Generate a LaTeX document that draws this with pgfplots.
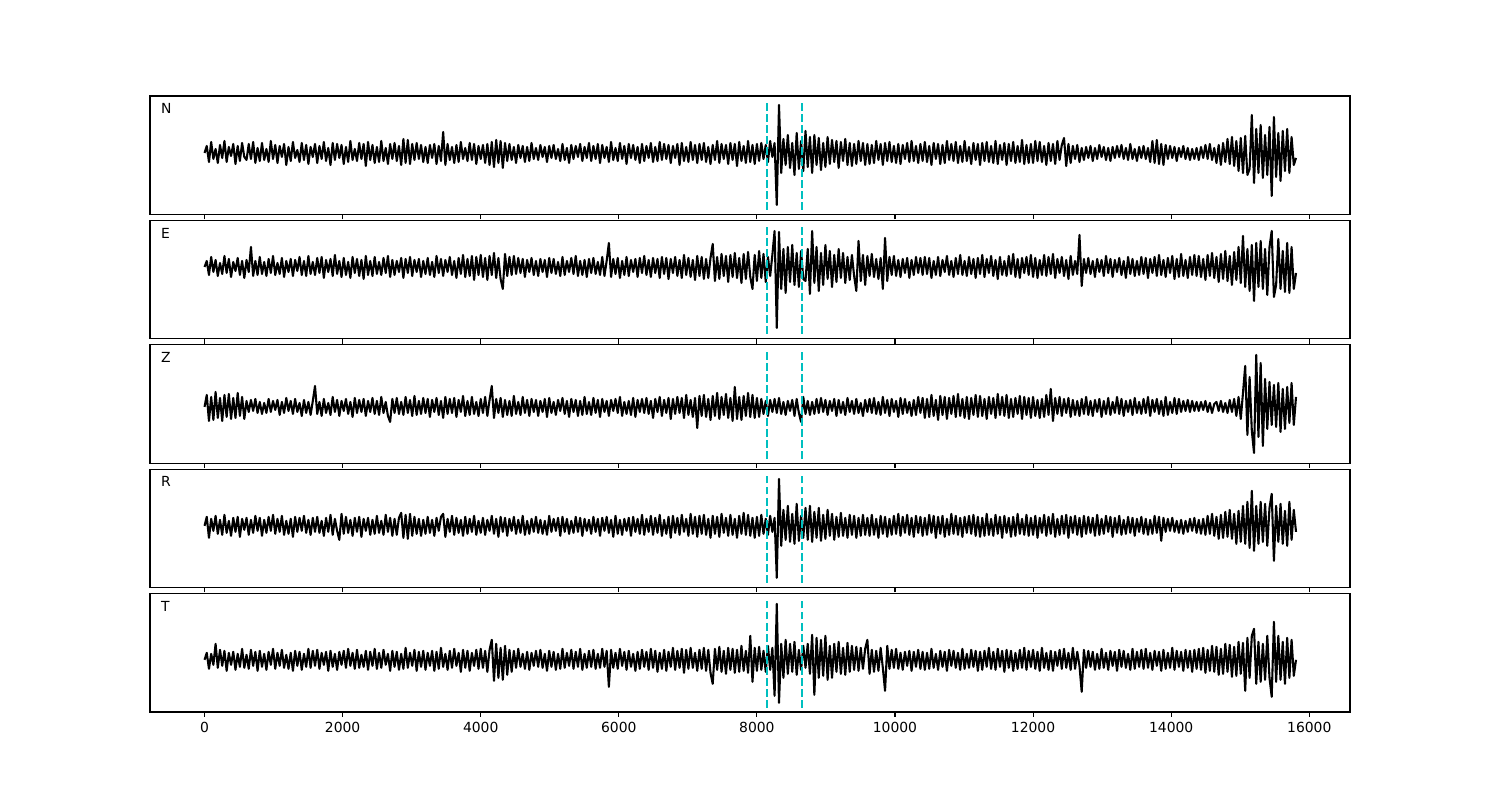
\documentclass[border=0pt]{standalone}
\usepackage{pgfplots}
\pgfplotsset{compat=1.18}
\usepackage{pgfplotstable}
\usepackage{fontspec}
\setmainfont{DejaVu Sans}
\definecolor{mplc}{RGB}{0,191,191}

% values: one sample every 32 units, from 0 to 15808 (495 samples per trace, 25 per line)
\pgfplotstableread[header=false,row sep=\\]{
0\\7\\-9\\11\\-6\\4\\-10\\8\\-5\\12\\-9\\6\\-3\\9\\-11\\7\\-8\\10\\-4\\-7\\9\\-6\\11\\-10\\5\\
-8\\10\\-7\\4\\-9\\12\\-6\\8\\-10\\7\\-4\\9\\-12\\6\\-8\\11\\-5\\3\\-9\\10\\-7\\8\\-11\\6\\-4\\
9\\-10\\7\\-6\\11\\-8\\5\\-12\\10\\-7\\9\\-5\\8\\-11\\6\\-9\\12\\-7\\4\\-8\\10\\-6\\9\\-13\\11\\
-7\\8\\-10\\6\\-9\\12\\-8\\5\\-11\\9\\-6\\10\\-8\\7\\-12\\14\\-10\\13\\-11\\9\\-7\\10\\-6\\8\\-9\\
6\\-10\\8\\-5\\9\\-11\\7\\-8\\21\\-12\\9\\-7\\6\\-10\\8\\-9\\11\\-6\\5\\-8\\10\\-7\\9\\-11\\7\\
-6\\8\\-10\\9\\-12\\11\\-14\\13\\-10\\12\\-15\\10\\-8\\9\\-7\\6\\-10\\8\\-5\\7\\-9\\6\\-8\\10\\-6\\
5\\-7\\8\\-4\\6\\-9\\7\\-5\\8\\-6\\4\\-8\\9\\-7\\5\\-10\\8\\-6\\7\\-4\\9\\-8\\6\\-5\\10\\
-8\\7\\-6\\9\\-10\\8\\-5\\6\\-9\\11\\-7\\5\\-8\\10\\-6\\7\\-11\\9\\-5\\8\\-7\\6\\-10\\9\\-8\\
7\\-5\\10\\-9\\6\\-8\\11\\-7\\9\\-6\\8\\-10\\7\\-5\\9\\-12\\10\\-8\\6\\-9\\11\\-7\\8\\-10\\9\\
-7\\10\\-9\\6\\-11\\8\\-7\\12\\-10\\9\\-6\\8\\-11\\10\\-7\\9\\-13\\11\\-8\\7\\-10\\12\\-9\\8\\-11\\
9\\-8\\10\\-6\\8\\-9\\12\\-4\\10\\-52\\48\\-20\\14\\-12\\18\\-15\\10\\-22\\20\\-16\\12\\-18\\22\\-14\\16\\
-20\\18\\-12\\15\\-17\\10\\-14\\16\\-11\\13\\-9\\12\\-15\\11\\-8\\14\\-12\\10\\-13\\9\\-11\\12\\-8\\10\\-12\\
9\\-11\\8\\-10\\12\\-7\\9\\-12\\10\\-8\\11\\-9\\7\\-10\\9\\-11\\8\\-6\\10\\-9\\12\\-8\\7\\-10\\9\\
-8\\11\\-9\\7\\-12\\10\\-6\\9\\-11\\8\\-10\\12\\-7\\9\\-8\\11\\-10\\7\\-9\\12\\-8\\6\\-11\\10\\-7\\
9\\-12\\10\\-8\\11\\-9\\7\\-10\\12\\-11\\8\\-7\\10\\-12\\9\\-8\\11\\-10\\7\\-9\\13\\-11\\8\\-10\\9\\
-10\\12\\-8\\11\\-9\\7\\-12\\10\\-8\\9\\-11\\12\\-7\\8\\15\\-13\\9\\-10\\7\\-6\\8\\-9\\5\\-7\\6\\
-5\\7\\-8\\5\\-6\\8\\-4\\6\\-7\\5\\-8\\6\\-5\\7\\-4\\8\\-6\\5\\-7\\9\\-6\\4\\-8\\6\\-5\\
7\\-6\\5\\-9\\12\\-10\\13\\-11\\9\\-12\\8\\-6\\7\\-5\\6\\-8\\5\\-4\\7\\-6\\5\\-7\\4\\-6\\5\\
-7\\6\\-5\\8\\-6\\9\\-7\\5\\-10\\8\\-12\\10\\-9\\14\\-11\\16\\-13\\12\\-18\\15\\-20\\17\\-22\\-16\\38\\
-30\\24\\-20\\28\\-25\\18\\-22\\26\\-43\\36\\-24\\20\\-28\\22\\-18\\24\\-20\\16\\-12\\-5\\
}\dataN

\pgfplotstableread[header=false,row sep=\\]{
0\\6\\-8\\10\\-5\\7\\-9\\4\\-7\\11\\-6\\8\\-10\\5\\-4\\9\\-8\\6\\-11\\7\\-5\\20\\-9\\6\\-8\\
10\\-7\\5\\-9\\8\\-6\\11\\-8\\4\\-7\\9\\-10\\6\\-5\\8\\-9\\7\\-4\\10\\-8\\6\\-9\\11\\-7\\5\\
-8\\9\\-6\\10\\-11\\7\\-5\\8\\-9\\12\\-7\\6\\-10\\9\\-8\\5\\-11\\10\\-6\\8\\-9\\7\\-12\\11\\-8\\
6\\-9\\10\\-7\\5\\-8\\9\\-6\\11\\-10\\7\\-8\\6\\-5\\9\\-11\\8\\-6\\10\\-9\\7\\-5\\8\\-10\\6\\
-7\\9\\-8\\5\\-10\\11\\-6\\8\\-9\\7\\-5\\10\\-8\\6\\-11\\9\\-7\\12\\-10\\8\\-9\\11\\-13\\10\\-8\\
12\\-10\\9\\-13\\11\\-8\\14\\-11\\9\\-12\\-22\\13\\-9\\10\\-8\\11\\-7\\9\\-6\\8\\-10\\7\\-5\\9\\-8\\
6\\-9\\8\\-5\\7\\-10\\9\\-6\\8\\-7\\5\\-9\\10\\-8\\6\\-5\\9\\-7\\11\\-9\\6\\-8\\7\\-10\\8\\
-6\\9\\-7\\5\\-8\\10\\-9\\6\\24\\-10\\8\\-7\\9\\-11\\6\\-8\\10\\-9\\7\\-5\\8\\-10\\9\\-6\\11\\
-8\\7\\-10\\9\\-6\\8\\-11\\10\\-7\\9\\-12\\8\\-6\\10\\-9\\7\\-11\\12\\-8\\9\\-10\\7\\-13\\11\\-9\\
10\\-12\\8\\-11\\9\\23\\-14\\10\\-12\\13\\-9\\11\\-15\\12\\-10\\14\\-11\\9\\-16\\13\\-12\\15\\-10\\-22\\12\\
-14\\16\\-11\\13\\-15\\10\\-9\\12\\36\\-61\\35\\-22\\18\\-26\\20\\-15\\22\\-18\\14\\-20\\16\\-12\\-14\\18\\-27\\
36\\-16\\20\\-24\\14\\-18\\22\\-12\\16\\-20\\12\\-15\\18\\-11\\14\\-16\\10\\-13\\12\\-9\\-24\\26\\-14\\12\\-18\\
11\\-9\\13\\-10\\8\\-12\\9\\-22\\29\\-14\\10\\-8\\11\\-9\\7\\-10\\8\\-6\\9\\-11\\7\\-8\\10\\-6\\9\\
-8\\10\\-7\\9\\-11\\6\\-8\\10\\-9\\7\\-5\\11\\-8\\6\\-10\\9\\-7\\12\\-8\\6\\-9\\10\\-7\\8\\-11\\
9\\-7\\12\\-10\\8\\-6\\11\\-9\\7\\-12\\10\\-8\\6\\-9\\11\\-7\\13\\-10\\8\\-11\\9\\-6\\10\\-8\\12\\
-10\\9\\-11\\7\\-8\\12\\-9\\10\\-7\\13\\-11\\8\\-6\\10\\-9\\7\\-12\\11\\-8\\6\\-7\\32\\-19\\8\\-6\\
9\\-7\\6\\-10\\8\\-5\\7\\-9\\11\\-6\\8\\-10\\7\\-5\\9\\-8\\6\\-11\\10\\-7\\8\\-9\\6\\-8\\10\\
-7\\9\\-11\\8\\-6\\10\\-9\\12\\-8\\7\\-10\\9\\-6\\11\\-12\\8\\-10\\13\\-9\\7\\-11\\10\\-8\\12\\-9\\
11\\-10\\8\\-13\\12\\-9\\14\\-11\\10\\-15\\13\\-12\\16\\-14\\11\\-18\\15\\-13\\20\\-16\\31\\-20\\18\\-24\\22\\
-34\\24\\-20\\26\\-22\\18\\-28\\20\\36\\-30\\-18\\28\\-22\\16\\-25\\24\\-26\\20\\-22\\-6\\
}\dataE

\pgfplotstableread[header=false,row sep=\\]{
0\\12\\-14\\10\\-13\\15\\-11\\9\\-14\\12\\-10\\13\\-12\\9\\-11\\14\\-9\\10\\-12\\6\\-5\\7\\-4\\8\\-6\\
5\\-7\\4\\-6\\8\\-5\\6\\-3\\7\\-8\\5\\-6\\9\\-4\\6\\-7\\8\\-5\\4\\-9\\7\\-6\\5\\-8\\6\\
21\\-7\\5\\-9\\8\\-6\\4\\-8\\10\\-5\\7\\-9\\6\\-4\\8\\-7\\5\\-10\\9\\-6\\7\\-5\\8\\-9\\6\\
-5\\9\\-7\\6\\-8\\10\\-6\\5\\-9\\-15\\8\\-6\\9\\-7\\5\\-8\\10\\-6\\7\\-9\\11\\-8\\6\\-7\\9\\
-6\\8\\-10\\7\\-5\\9\\-8\\6\\-11\\10\\-7\\8\\-6\\9\\-10\\7\\-5\\11\\-9\\6\\-8\\10\\-7\\5\\-9\\
8\\-6\\10\\-9\\7\\21\\-11\\8\\-6\\9\\-10\\7\\-8\\6\\-9\\11\\-7\\5\\-8\\10\\-6\\7\\-9\\8\\-5\\
7\\-9\\6\\-5\\8\\-10\\9\\-6\\5\\-8\\7\\-4\\9\\-7\\6\\-10\\8\\-5\\7\\-9\\6\\-8\\10\\-7\\5\\
-8\\9\\-6\\7\\-10\\8\\-5\\6\\-9\\7\\-4\\8\\-6\\10\\-9\\5\\-7\\6\\-8\\9\\-10\\7\\-5\\8\\-6\\
9\\-7\\6\\-11\\8\\-5\\10\\-9\\7\\-6\\9\\-12\\8\\-7\\10\\-6\\9\\-11\\12\\-8\\7\\-10\\9\\-21\\11\\
-9\\12\\-10\\8\\-13\\11\\-9\\14\\-12\\10\\-8\\13\\-11\\9\\-14\\20\\-12\\10\\-13\\11\\-9\\14\\-10\\12\\-11\\
9\\-10\\8\\-7\\6\\-9\\7\\-5\\8\\-6\\9\\-7\\5\\-8\\6\\-4\\7\\-9\\8\\-6\\-15\\10\\-7\\6\\-8\\
5\\-7\\8\\-6\\9\\-5\\7\\-8\\6\\-4\\8\\-9\\7\\-6\\5\\-8\\9\\-5\\6\\-7\\8\\-6\\4\\-9\\7\\
-5\\8\\-6\\9\\-7\\5\\-8\\10\\-6\\7\\-9\\8\\-5\\6\\-10\\9\\-7\\8\\-6\\5\\-9\\7\\-8\\10\\-6\\
9\\-11\\8\\-10\\12\\-9\\7\\-13\\11\\-8\\10\\-12\\9\\-7\\11\\-10\\13\\-9\\8\\-11\\10\\-12\\9\\-8\\12\\
-10\\11\\-9\\8\\-12\\10\\-7\\9\\-11\\13\\-8\\10\\-9\\12\\-11\\8\\-10\\9\\-7\\11\\-12\\10\\-8\\9\\-11\\
10\\-9\\7\\-11\\8\\-10\\12\\-8\\18\\-14\\9\\-7\\10\\-9\\8\\-6\\9\\-10\\7\\-8\\6\\-9\\8\\-7\\10\\
-8\\6\\-9\\7\\-5\\8\\-10\\6\\-7\\9\\-8\\5\\-6\\10\\-7\\8\\-9\\6\\-5\\7\\-8\\9\\-6\\5\\-7\\
8\\-6\\10\\-9\\7\\-5\\8\\-7\\6\\-9\\10\\-8\\5\\-6\\9\\-7\\8\\-5\\6\\-4\\7\\-5\\6\\-4\\5\\
-4\\5\\-3\\6\\-5\\4\\-6\\3\\5\\-4\\6\\-5\\4\\-6\\7\\-5\\8\\-9\\10\\-12\\14\\41\\-28\\30\\-24\\
-46\\52\\-30\\44\\-39\\28\\-22\\25\\-18\\22\\-20\\24\\-25\\18\\-22\\20\\-16\\24\\-18\\10\\
}\dataZ

\pgfplotstableread[header=false,row sep=\\]{
0\\9\\-12\\7\\-5\\10\\-8\\6\\-9\\11\\-7\\5\\-10\\8\\-6\\9\\-11\\7\\-4\\8\\-9\\6\\-7\\10\\-5\\
8\\-10\\6\\-7\\9\\-5\\11\\-8\\7\\-6\\10\\-9\\5\\-8\\7\\-11\\9\\-6\\8\\-5\\10\\-7\\6\\-9\\8\\
-6\\9\\-7\\5\\-10\\8\\-6\\11\\-9\\7\\-5\\-14\\12\\-8\\9\\-7\\6\\-10\\8\\-6\\9\\-11\\7\\-5\\8\\
-9\\6\\-8\\10\\-7\\5\\-9\\11\\-6\\8\\-10\\7\\-9\\8\\13\\-12\\11\\-13\\12\\-10\\9\\-8\\7\\-10\\6\\
-8\\9\\-7\\6\\-10\\8\\-5\\9\\12\\-11\\7\\-6\\10\\-9\\8\\-7\\6\\-10\\9\\-8\\7\\-6\\10\\-9\\5\\
-7\\8\\-9\\6\\-5\\10\\-8\\7\\-11\\9\\-6\\8\\-10\\7\\-5\\9\\-8\\6\\-7\\10\\-9\\5\\-8\\7\\-6\\
9\\-7\\6\\-8\\5\\-9\\10\\-6\\7\\-5\\8\\-10\\9\\-6\\7\\-8\\5\\-7\\9\\-6\\8\\-10\\7\\-5\\6\\
-8\\9\\-6\\7\\-10\\8\\-5\\9\\-7\\6\\-11\\10\\-8\\6\\-9\\7\\-5\\8\\-10\\9\\-6\\7\\-8\\11\\-9\\
7\\-6\\10\\-9\\8\\-7\\11\\-10\\6\\-8\\9\\-12\\10\\-7\\8\\-9\\11\\-6\\7\\-10\\12\\-8\\9\\-11\\10\\
-8\\11\\-9\\7\\-12\\10\\-8\\9\\-11\\12\\-7\\8\\-10\\11\\-9\\7\\-12\\10\\-8\\13\\-9\\11\\-10\\8\\-12\\
9\\-10\\11\\-8\\7\\-9\\10\\-6\\8\\-52\\47\\-20\\16\\-14\\20\\-16\\12\\-18\\22\\-15\\10\\-12\\18\\-14\\20\\
-16\\14\\-12\\18\\-15\\11\\-13\\16\\-10\\12\\-14\\9\\-11\\13\\-10\\8\\-12\\11\\-9\\10\\-12\\8\\-10\\11\\-9\\
8\\-10\\11\\-9\\7\\-12\\10\\-8\\9\\-11\\7\\-9\\10\\-8\\12\\-10\\9\\-7\\11\\-9\\8\\-11\\10\\-7\\9\\
-10\\8\\-9\\11\\-7\\10\\-12\\9\\-8\\10\\-11\\7\\-9\\12\\-8\\10\\-9\\8\\-11\\9\\-7\\10\\-8\\11\\-10\\
9\\-11\\8\\-10\\12\\-9\\7\\-10\\11\\-8\\9\\-12\\10\\-7\\8\\-11\\9\\-10\\12\\-8\\7\\-9\\11\\-10\\8\\
-9\\10\\-12\\8\\-7\\11\\-10\\9\\-8\\12\\-11\\7\\-9\\10\\-8\\11\\-12\\9\\-7\\10\\-9\\8\\-11\\10\\-8\\
9\\-7\\8\\-10\\11\\-9\\7\\-8\\10\\-6\\9\\-11\\8\\-7\\10\\-9\\6\\-8\\9\\-7\\8\\-10\\7\\-6\\9\\
-8\\7\\-9\\6\\-8\\10\\-7\\9\\-15\\8\\-6\\7\\-5\\8\\-6\\5\\-7\\6\\-8\\5\\-6\\7\\-5\\8\\-7\\
6\\-8\\7\\-9\\10\\-8\\12\\-10\\9\\-13\\11\\-12\\14\\-11\\16\\-13\\12\\-18\\15\\-16\\20\\-18\\24\\-22\\35\\
-25\\20\\-18\\24\\-16\\22\\-20\\18\\32\\-35\\20\\-16\\22\\-18\\15\\-20\\24\\-14\\16\\-6\\
}\dataR

\pgfplotstableread[header=false,row sep=\\]{
0\\7\\-9\\6\\-5\\16\\-8\\10\\-6\\9\\-11\\7\\-5\\8\\-10\\6\\-7\\11\\-8\\5\\-9\\10\\-6\\8\\-11\\
9\\-7\\6\\-10\\8\\-5\\11\\-9\\7\\-6\\10\\-8\\5\\-9\\7\\-11\\9\\-6\\8\\-10\\6\\-7\\11\\-8\\9\\
-6\\10\\-9\\7\\-5\\8\\-11\\9\\-7\\6\\-10\\8\\-5\\9\\-8\\11\\-6\\7\\-9\\10\\-8\\5\\-7\\9\\-10\\
8\\-6\\11\\-9\\7\\-8\\10\\-5\\6\\-11\\9\\-7\\8\\-10\\6\\-9\\12\\-8\\7\\-6\\10\\-11\\8\\-7\\9\\
-10\\7\\-6\\9\\-11\\8\\-9\\12\\-7\\6\\-10\\9\\-8\\11\\-6\\7\\-12\\10\\-8\\9\\-11\\7\\-6\\10\\-9\\
11\\-8\\9\\-12\\10\\20\\-21\\16\\-18\\12\\-20\\14\\-15\\10\\-12\\9\\-8\\11\\-7\\6\\-9\\8\\-10\\7\\-6\\
9\\-7\\10\\-8\\6\\-11\\9\\-7\\8\\-10\\6\\-9\\11\\-8\\7\\-6\\10\\-9\\8\\-7\\11\\-10\\6\\-8\\9\\
-7\\10\\-9\\6\\-8\\11\\-7\\9\\-27\\10\\-8\\7\\-9\\11\\-6\\8\\-10\\9\\-7\\6\\-11\\8\\-9\\10\\-7\\
8\\-10\\11\\-8\\9\\-12\\7\\-9\\10\\-11\\8\\-7\\12\\-10\\9\\-8\\11\\-13\\10\\-9\\12\\-8\\7\\-11\\10\\
-9\\12\\-11\\10\\-13\\-24\\11\\-10\\13\\-12\\9\\-14\\12\\-10\\11\\-13\\10\\-12\\14\\-11\\9\\-13\\24\\-22\\12\\
-11\\13\\-10\\9\\-12\\14\\-10\\12\\-36\\56\\-43\\16\\-18\\20\\-14\\16\\-12\\18\\-15\\10\\-10\\14\\-8\\16\\-14\\
25\\-35\\22\\-18\\20\\-16\\24\\-20\\14\\-18\\16\\-12\\18\\-14\\12\\-15\\17\\-12\\14\\-10\\13\\-11\\12\\-9\\11\\
20\\-14\\10\\-12\\9\\-11\\12\\-8\\-31\\14\\-9\\10\\-8\\11\\-9\\7\\-10\\8\\-6\\9\\-11\\8\\-7\\10\\-9\\
8\\-10\\7\\-9\\11\\-8\\6\\-10\\9\\-7\\8\\-11\\10\\-6\\9\\-8\\7\\-10\\11\\-9\\6\\-8\\10\\-7\\9\\
-11\\8\\-10\\9\\-7\\12\\-9\\8\\-10\\11\\-7\\9\\-12\\10\\-8\\9\\-11\\7\\-9\\10\\-8\\12\\-10\\9\\-7\\
10\\-9\\8\\-11\\12\\-8\\7\\-10\\9\\-11\\8\\-6\\10\\-9\\11\\-8\\7\\-10\\12\\-9\\8\\-6\\-32\\10\\-8\\
9\\-7\\8\\-10\\6\\-9\\11\\-8\\7\\-10\\9\\-6\\8\\-11\\10\\-7\\9\\-8\\6\\-10\\11\\-9\\8\\-7\\10\\
-9\\11\\-8\\7\\-10\\9\\-6\\8\\-11\\10\\-9\\7\\-8\\12\\-10\\9\\-7\\8\\-11\\10\\-8\\9\\-12\\10\\-9\\
11\\-10\\12\\-13\\10\\-11\\14\\-12\\13\\-15\\11\\-14\\16\\-12\\15\\-17\\13\\-16\\18\\-14\\17\\-31\\22\\-18\\24\\
31\\-24\\18\\-22\\16\\-20\\24\\-18\\-37\\38\\-22\\24\\-20\\18\\-24\\22\\-18\\20\\-16\\0\\
}\dataT

\tikzset{lab/.style={anchor=base west, inner sep=0pt, font=\fontsize{10}{12}\selectfont}}

\pgfplotsset{
  panel/.style={
    scale only axis, width=864pt, height=85.29pt,
    anchor=north west,
    xmin=-790, xmax=16590,
    xtick={0,2000,...,16000},
    ytick=\empty,
    xtick pos=left,
    tick align=outside,
    major tick length=3.5pt,
    xticklabels={},
    axis line style={line width=0.8pt},
    every tick/.style={line width=0.8pt, black},
    scaled x ticks=false,
    tick label style={font=\fontsize{10}{12}\selectfont},
    /pgf/number format/1000 sep={},
    /pgf/number format/assume math mode=true,
    clip=true,
  },
  trace/.style={black, line width=1.5pt, line join=round, no markers},
  pick/.style={mplc, line width=1.6pt, dash pattern=on 5.55pt off 2.4pt, no markers},
}

\begin{document}
\begin{tikzpicture}
\path (0,0) rectangle (1080pt,576pt);

\begin{axis}[panel, at={(108pt,506.88pt)}, ymin=-61.5, ymax=57]
\addplot[trace] table[x expr=\coordindex*32, y index=0] {\dataN};
\addplot[pick] coordinates {(8150,-57) (8150,52)};
\addplot[pick] coordinates {(8650,-57) (8650,52)};
\node[lab] at (rel axis cs:0.009,0.85) {N};
\end{axis}

\begin{axis}[panel, at={(108pt,417.32pt)}, ymin=-71.9, ymax=46.6]
\addplot[trace] table[x expr=\coordindex*32, y index=0] {\dataE};
\addplot[pick] coordinates {(8150,-67) (8150,41)};
\addplot[pick] coordinates {(8650,-67) (8650,41)};
\node[lab] at (rel axis cs:0.009,0.85) {E};
\end{axis}

\begin{axis}[panel, at={(108pt,327.76pt)}, ymin=-56.3, ymax=62.2]
\addplot[trace] table[x expr=\coordindex*32, y index=0] {\dataZ};
\addplot[pick] coordinates {(8150,-52) (8150,56)};
\addplot[pick] coordinates {(8650,-52) (8650,56)};
\node[lab] at (rel axis cs:0.009,0.85) {Z};
\end{axis}

\begin{axis}[panel, at={(108pt,238.20pt)}, ymin=-61.8, ymax=56.7]
\addplot[trace] table[x expr=\coordindex*32, y index=0] {\dataR};
\addplot[pick] coordinates {(8150,-57) (8150,51)};
\addplot[pick] coordinates {(8650,-57) (8650,51)};
\node[lab] at (rel axis cs:0.009,0.85) {R};
\end{axis}

\begin{axis}[panel, at={(108pt,148.64pt)}, ymin=-52.2, ymax=66.3,
  xticklabels={0,2000,4000,6000,8000,10000,12000,14000,16000}]
\addplot[trace] table[x expr=\coordindex*32, y index=0] {\dataT};
\addplot[pick] coordinates {(8150,-48) (8150,60)};
\addplot[pick] coordinates {(8650,-48) (8650,60)};
\node[lab] at (rel axis cs:0.009,0.85) {T};
\end{axis}
\end{tikzpicture}
\end{document}
